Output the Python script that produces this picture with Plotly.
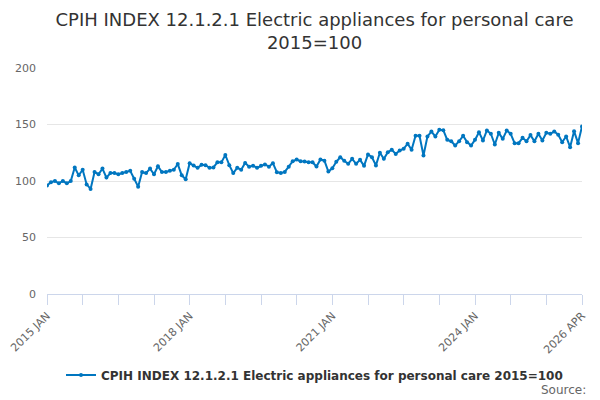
import plotly.graph_objects as go

# monthly CPIH index, 2015 JAN .. 2026 APR
months = ["JAN", "FEB", "MAR", "APR", "MAY", "JUN",
          "JUL", "AUG", "SEP", "OCT", "NOV", "DEC"]
periods = [f"{y} {m}" for y in range(2015, 2027) for m in months][:136]

values = [
    96, 99, 100, 98, 100, 98, 100, 112, 105, 110, 97, 93,
    108, 106, 111, 103, 107, 107, 106, 107, 108, 109, 102, 95,
    108, 107, 111, 106, 113, 108, 108, 109, 110, 115, 105, 101.5,
    115.8, 113.7, 111.7, 114.3, 114, 111.7, 112, 116.6, 116.5, 123, 114, 107,
    111.7, 110, 116, 112.7, 113.5, 111.7, 113.5, 114.7, 112.7, 115.8, 107.8, 107,
    108, 112.7, 117.5, 119, 117.5, 117.3, 116.6, 116.6, 112.8, 119, 118, 108.4,
    111.3, 117, 121, 118, 115.2, 119.6, 115.2, 118.7, 113.4, 123.5, 121, 113.8,
    125, 119.6, 125.5, 127.6, 124, 127, 128.5, 133, 127.6, 140, 140, 122.6,
    139.4, 143.8, 139.4, 145.3, 145, 136.4, 135.2, 131.4, 135.2, 140, 134.4, 131.4,
    136.4, 143.2, 135.8, 144.7, 141.8, 132.3, 142.6, 137.3, 144.7, 141.8, 133.5, 133.5,
    138.2, 135.2, 140.6, 135.2, 141.8, 135.8, 142.6, 141.8, 143.8, 141, 134.4, 139.4,
    129.9, 144.1, 133.5, 148.2,
]

label_periods = ["2015 JAN", "2018 JAN", "2021 JAN", "2024 JAN", "2026 APR"]
tick_periods = periods[::9]
tick_text = [p if p in label_periods else "" for p in tick_periods]

series_name = "CPIH INDEX 12.1.2.1 Electric appliances for personal care 2015=100"

fig = go.Figure()
fig.add_trace(go.Scatter(
    x=periods, y=values, mode="lines+markers", name=series_name,
    line=dict(color="#0076c0", width=2),
    marker=dict(color="#0076c0", size=4),
))

# page body has an 8px margin, so the figure sits 8px in from the window corner
fig.update_layout(
    width=592, height=392,
    margin=dict(l=39, r=18, t=60, b=106),
    paper_bgcolor="white", plot_bgcolor="white",
    font=dict(family="DejaVu Sans", color="#333333"),
    title=dict(
        text="CPIH INDEX 12.1.2.1 Electric appliances for personal care<br>2015=100",
        x=0.5, xanchor="center", xref="paper",
        yref="container", y=0.955, yanchor="top",
        font=dict(size=18, color="#333333"),
    ),
    showlegend=True,
    legend=dict(
        orientation="h", x=0.5, xanchor="center",
        yref="container", y=0.064, yanchor="middle",
        font=dict(size=12, color="#333333", weight="bold"),
    ),
    xaxis=dict(
        type="category", range=[0, len(periods) - 1], automargin=False,
        tickmode="array", tickvals=tick_periods, ticktext=tick_text,
        tickangle=-45, ticks="outside", ticklen=10, tickcolor="#ccd6eb",
        showline=True, linecolor="#ccd6eb", showgrid=False,
        tickfont=dict(size=11, color="#666666"),
    ),
    yaxis=dict(
        range=[0, 200], tickvals=[0, 50, 100, 150, 200], automargin=False,
        showgrid=True, gridcolor="#e6e6e6", zeroline=False,
        ticklabelstandoff=10, tickfont=dict(size=11, color="#666666"),
    ),
)

fig.add_annotation(
    text="Source:", xref="paper", yref="paper", x=1.011, y=-0.425,
    xanchor="right", yanchor="middle", showarrow=False,
    font=dict(size=12, color="#666666"),
)

fig.write_html("out.html")
